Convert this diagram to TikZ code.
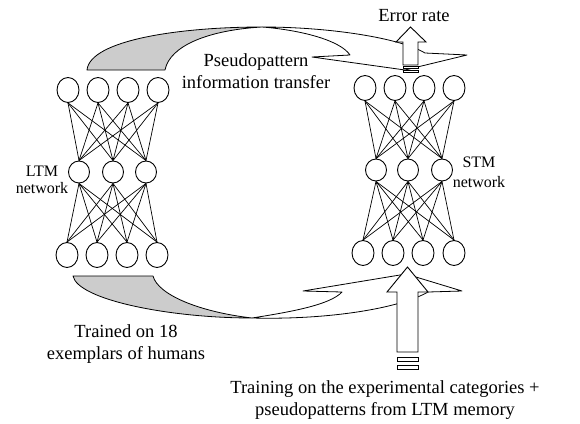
\documentclass[tikz,border=0pt]{standalone}
\usepackage{fontspec}
\setmainfont{Liberation Serif}
\usetikzlibrary{shapes.geometric}
\definecolor{bandgray}{gray}{0.8}

\begin{document}
\begin{tikzpicture}[x=1pt,y=-1pt,
  unit/.style={draw,ellipse,line width=0.9pt,inner sep=0pt,minimum width=22pt,minimum height=25pt},
  hidden/.style={unit,minimum width=21pt,minimum height=22pt},
  link/.style={line width=0.7pt},
  band/.style={draw,line width=0.8pt,line join=round},
  blk/.style={draw,fill=white,line width=0.9pt,line join=miter},
  txt/.style={font=\fontsize{18.5}{22}\selectfont,align=center,inner sep=0pt}]
  \useasboundingbox (0,0) rectangle (580,423);
  % curved transfer arrow, top
  \coordinate (tbl) at (87,70);
  \coordinate (tbr) at (165,70);
  \coordinate (tx) at (262,27);
  \filldraw[band,fill=bandgray] (tbl) .. controls (90,40) and (180,27) .. (tx) .. controls (210,30) and (170,45) .. (tbr) -- cycle;
  \filldraw[band,fill=white] (tx) .. controls (330,27) and (400,38) .. (425,53) -- (467,55) -- (405,70) -- (312,57) -- (350,55) .. controls (340,40) and (300,30) .. (tx);
  % curved training arrow, bottom
  \coordinate (bbl) at (73,276);
  \coordinate (bbr) at (153,276);
  \coordinate (bx) at (252,318);
  \filldraw[band,fill=bandgray] (bbl) .. controls (78,300) and (170,318) .. (bx) .. controls (200,312) and (158,295) .. (bbr) -- cycle;
  \filldraw[band,fill=white] (bx) .. controls (330,320) and (400,308) .. (428,292) -- (462,291) -- (406,274) -- (303,291) -- (342,292) .. controls (330,305) and (290,312) .. (bx);
  % LTM network
  \foreach \i/\x in {1/68,2/98,3/128,4/158}
    \node[unit] (lt\i) at (\x,90) {};
  \foreach \i/\x in {1/79,2/113,3/146}
    \node[hidden] (lm\i) at (\x,172) {};
  \foreach \i/\x in {1/67,2/97,3/127,4/157}
    \node[unit] (lb\i) at (\x,255) {};
  % STM network
  \foreach \i/\x in {1/365,2/395,3/424,4/454}
    \node[unit] (rt\i) at (\x,88) {};
  \foreach \i/\x in {1/376,2/408,3/442}
    \node[hidden] (rm\i) at (\x,170) {};
  \foreach \i/\x in {1/363,2/393,3/423,4/454}
    \node[unit] (rb\i) at (\x,253) {};
  \foreach \a in {1,...,4}
    \foreach \b in {1,2,3} {
      \draw[link] (lt\a.south) -- (lm\b.north);
      \draw[link] (lm\b.south) -- (lb\a.north);
      \draw[link] (rt\a.south) -- (rm\b.north);
      \draw[link] (rm\b.south) -- (rb\a.north);
    }
  % error rate arrow
  \draw[blk] (403,65) -- (403,42) -- (396,42) -- (410.5,27) -- (426,42) -- (418,42) -- (418,65) -- cycle;
  \draw[blk] (403,66.5) rectangle (418,68.5);
  \draw[blk] (403,70) rectangle (418,72);
  % training arrow
  \draw[blk] (397,352) -- (397,292) -- (387,292) -- (407.5,267) -- (428,292) -- (418,292) -- (418,352) -- cycle;
  \draw[blk] (397,357) rectangle (418,361);
  \draw[blk] (397,365) rectangle (418,369);
  % labels
  \node[txt] (err) at (414,16) {Error rate};
  \node[txt] (pseudo) at (256,71) {Pseudopattern\\information transfer};
  \node[txt,font=\fontsize{16}{17}\selectfont] (ltm) at (42,180) {LTM\\network};
  \node[txt,font=\fontsize{16}{20}\selectfont] (stm) at (479,172) {STM\\network};
  \node[txt] (trained) at (126,344) {Trained on 18\\exemplars of humans};
  \node[txt] (training) at (385,400) {Training on the experimental categories +\\pseudopatterns from LTM memory};
\end{tikzpicture}
\end{document}
